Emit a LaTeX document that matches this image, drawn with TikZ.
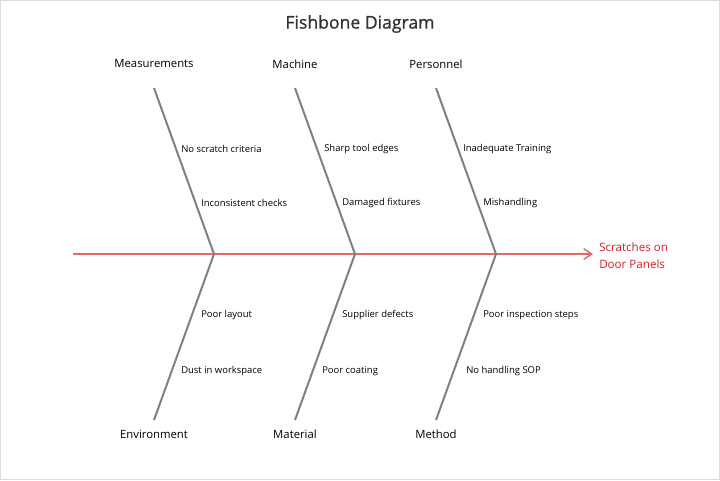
\documentclass[tikz,border=0pt]{standalone}
\usepackage{fontspec}
\setmainfont{Open Sans}
\newfontfamily\titlefont[FakeBold=1]{Open Sans}
\usetikzlibrary{arrows.meta}
\definecolor{bone}{RGB}{128,128,128}
\definecolor{spinered}{RGB}{232,104,104}
\definecolor{effectred}{RGB}{214,32,40}
\definecolor{titlegrey}{RGB}{51,51,51}
\definecolor{framegrey}{RGB}{220,220,220}
\tikzset{
  bonestyle/.style={draw=bone, line width=1.5pt},
  spinestyle/.style={draw=spinered, line width=1.4pt, -{Straight Barb[length=6pt,width=8pt,line width=1.1pt]}},
  category/.style={inner sep=0pt, font=\fontsize{8.5}{11}\selectfont, text=black},
  cause/.style={inner sep=0pt, anchor=west, font=\fontsize{7.1}{9}\selectfont, text=black},
  effect/.style={inner sep=0pt, anchor=west, align=left, font=\fontsize{8.7}{12.7}\selectfont, text=effectred},
}
\begin{document}
\begin{tikzpicture}[x=0.75pt, y=-0.75pt]
  \useasboundingbox (0,0) rectangle (720,480);
  \draw[framegrey, line width=1.2pt] (0.6,0.6) rectangle (719.4,479.4);

  % title
  \node[font=\titlefont\fontsize{13.2}{16}\selectfont, text=titlegrey] (title) at (360,24) {Fishbone Diagram};

  % spine and effect
  \coordinate (tail) at (73,254);
  \node[effect] (effect) at (599,255.5) {Scratches on\\Door Panels};
  \coordinate (head) at (593,254);
  \draw[spinestyle] (tail) -- (head);

  % joints on the spine
  \coordinate (j1) at (214,254);
  \coordinate (j2) at (355,254);
  \coordinate (j3) at (496,254);

  % bone ends
  \coordinate (t1) at (154,88);
  \coordinate (t2) at (295,88);
  \coordinate (t3) at (436,88);
  \coordinate (b1) at (154,420);
  \coordinate (b2) at (295,420);
  \coordinate (b3) at (436,420);

  \draw[bonestyle] (t1) -- (j1) -- (b1);
  \draw[bonestyle] (t2) -- (j2) -- (b2);
  \draw[bonestyle] (t3) -- (j3) -- (b3);

  % categories
  \node[category] (measurements) at (154,64) {Measurements};
  \node[category] (machine) at (295,64) {Machine};
  \node[category] (personnel) at (436,64) {Personnel};
  \node[category] (environment) at (154,434) {Environment};
  \node[category] (material) at (295,434) {Material};
  \node[category] (method) at (436,434) {Method};

  % causes
  \node[cause] (c11) at (181,149) {No scratch criteria};
  \node[cause] (c12) at (201,203) {Inconsistent checks};
  \node[cause] (c21) at (324,149) {Sharp tool edges};
  \node[cause] (c22) at (342,203) {Damaged fixtures};
  \node[cause] (c31) at (463,149) {Inadequate Training};
  \node[cause] (c32) at (483,203) {Mishandling};
  \node[cause] (c41) at (201,315) {Poor layout};
  \node[cause] (c42) at (181,371) {Dust in workspace};
  \node[cause] (c51) at (342,315) {Supplier defects};
  \node[cause] (c52) at (322,371) {Poor coating};
  \node[cause] (c61) at (483,315) {Poor inspection steps};
  \node[cause] (c62) at (466,371) {No handling SOP};
\end{tikzpicture}
\end{document}
